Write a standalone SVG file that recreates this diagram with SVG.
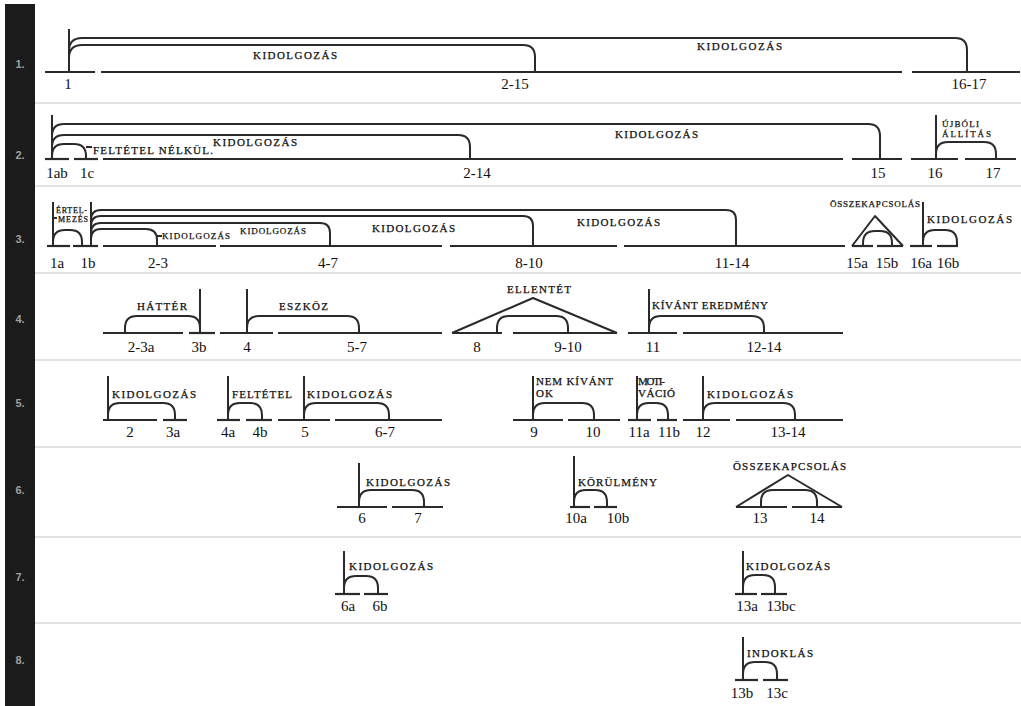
<svg xmlns="http://www.w3.org/2000/svg" width="1021" height="706" viewBox="0 0 1021 706">
<style>
.bg{fill:#ffffff}
.bar{fill:#1b1b1b}
.rn{font-family:"Liberation Sans",Arial,sans-serif;font-weight:bold;font-size:11px;fill:#a0a0a0;text-anchor:middle}
.dv{stroke:#e2e2e2;stroke-width:2}
.seg{stroke:#2a2a2a;stroke-width:2.2;fill:none}
.ln{stroke:#2a2a2a;stroke-width:2;fill:none;stroke-linejoin:round}
.num{font-family:"Liberation Serif","Times New Roman",serif;font-size:15px;fill:#111;text-anchor:middle}
.rel{font-family:"Liberation Serif","Times New Roman",serif;font-size:11px;fill:#111;stroke:#111;stroke-width:0.25}
.sm{font-size:9px}
</style>
<rect class="bg" x="0" y="0" width="1021" height="706"/>
<rect class="bar" x="5" y="4" width="30" height="702"/>
<g id="row-labels">
<text class="rn" x="20" y="68">1.</text>
<text class="rn" x="20" y="159">2.</text>
<text class="rn" x="20" y="243">3.</text>
<text class="rn" x="20" y="323">4.</text>
<text class="rn" x="20" y="407">5.</text>
<text class="rn" x="20" y="494">6.</text>
<text class="rn" x="20" y="581">7.</text>
<text class="rn" x="20" y="664">8.</text>
</g>
<g id="dividers">
<line class="dv" x1="35" y1="103" x2="1021" y2="103"/>
<line class="dv" x1="35" y1="186" x2="1021" y2="186"/>
<line class="dv" x1="35" y1="273" x2="1021" y2="273"/>
<line class="dv" x1="35" y1="360" x2="1021" y2="360"/>
<line class="dv" x1="35" y1="447" x2="1021" y2="447"/>
<line class="dv" x1="35" y1="537" x2="1021" y2="537"/>
<line class="dv" x1="35" y1="623" x2="1021" y2="623"/>
</g>

<!-- Row 1 nodes -->
<g id="r1-1"><line class="seg" x1="45" y1="72" x2="95" y2="72"/><text class="num" x="68" y="89">1</text></g>
<g id="r1-2-15"><line class="seg" x1="101" y1="72" x2="902" y2="72"/><text class="num" x="515" y="89">2-15</text></g>
<g id="r1-16-17"><line class="seg" x1="912" y1="72" x2="1020" y2="72"/><text class="num" x="969" y="89">16-17</text></g>

<!-- Row 2 nodes -->
<g id="r2-1ab"><line class="seg" x1="45" y1="159" x2="69" y2="159"/><text class="num" x="57" y="178">1ab</text></g>
<g id="r2-1c"><line class="seg" x1="74" y1="159" x2="98" y2="159"/><text class="num" x="87" y="178">1c</text></g>
<g id="r2-2-14"><line class="seg" x1="103" y1="159" x2="843" y2="159"/><text class="num" x="477" y="178">2-14</text></g>
<g id="r2-15"><line class="seg" x1="852" y1="159" x2="902" y2="159"/><text class="num" x="878" y="178">15</text></g>
<g id="r2-16"><line class="seg" x1="911" y1="159" x2="958" y2="159"/><text class="num" x="935" y="178">16</text></g>
<g id="r2-17"><line class="seg" x1="965" y1="159" x2="1016" y2="159"/><text class="num" x="993" y="178">17</text></g>

<!-- Row 3 nodes -->
<g id="r3-1a"><line class="seg" x1="47" y1="246" x2="70" y2="246"/><text class="num" x="57" y="268">1a</text></g>
<g id="r3-1b"><line class="seg" x1="73" y1="246" x2="98" y2="246"/><text class="num" x="88" y="268">1b</text></g>
<g id="r3-2-3"><line class="seg" x1="103" y1="246" x2="216" y2="246"/><text class="num" x="158" y="268">2-3</text></g>
<g id="r3-4-7"><line class="seg" x1="220" y1="246" x2="442" y2="246"/><text class="num" x="328" y="268">4-7</text></g>
<g id="r3-8-10"><line class="seg" x1="450" y1="246" x2="617" y2="246"/><text class="num" x="529" y="268">8-10</text></g>
<g id="r3-11-14"><line class="seg" x1="624" y1="246" x2="845" y2="246"/><text class="num" x="732" y="268">11-14</text></g>
<g id="r3-15a"><line class="seg" x1="852" y1="246" x2="873" y2="246"/><text class="num" x="857" y="268">15a</text></g>
<g id="r3-15b"><line class="seg" x1="877" y1="246" x2="903" y2="246"/><text class="num" x="887" y="268">15b</text></g>
<g id="r3-16a"><line class="seg" x1="910" y1="246" x2="932" y2="246"/><text class="num" x="921" y="268">16a</text></g>
<g id="r3-16b"><line class="seg" x1="937" y1="246" x2="958" y2="246"/><text class="num" x="948" y="268">16b</text></g>

<!-- Row 4 nodes -->
<g id="r4-2-3a"><line class="seg" x1="103" y1="333" x2="183" y2="333"/><text class="num" x="141" y="352">2-3a</text></g>
<g id="r4-3b"><line class="seg" x1="189" y1="333" x2="215" y2="333"/><text class="num" x="199" y="352">3b</text></g>
<g id="r4-4"><line class="seg" x1="220" y1="333" x2="273" y2="333"/><text class="num" x="247" y="352">4</text></g>
<g id="r4-5-7"><line class="seg" x1="278" y1="333" x2="442" y2="333"/><text class="num" x="357" y="352">5-7</text></g>
<g id="r4-8"><line class="seg" x1="452" y1="333" x2="502" y2="333"/><text class="num" x="477" y="352">8</text></g>
<g id="r4-9-10"><line class="seg" x1="513" y1="333" x2="617" y2="333"/><text class="num" x="568" y="352">9-10</text></g>
<g id="r4-11"><line class="seg" x1="628" y1="333" x2="677" y2="333"/><text class="num" x="653" y="352">11</text></g>
<g id="r4-12-14"><line class="seg" x1="683" y1="333" x2="843" y2="333"/><text class="num" x="764" y="352">12-14</text></g>

<!-- Row 5 nodes -->
<g id="r5-2"><line class="seg" x1="103" y1="420" x2="157" y2="420"/><text class="num" x="130" y="437">2</text></g>
<g id="r5-3a"><line class="seg" x1="163" y1="420" x2="187" y2="420"/><text class="num" x="173" y="437">3a</text></g>
<g id="r5-4a"><line class="seg" x1="217" y1="420" x2="240" y2="420"/><text class="num" x="228" y="437">4a</text></g>
<g id="r5-4b"><line class="seg" x1="246" y1="420" x2="272" y2="420"/><text class="num" x="260" y="437">4b</text></g>
<g id="r5-5"><line class="seg" x1="278" y1="420" x2="330" y2="420"/><text class="num" x="305" y="437">5</text></g>
<g id="r5-6-7"><line class="seg" x1="335" y1="420" x2="442" y2="420"/><text class="num" x="385" y="437">6-7</text></g>
<g id="r5-9"><line class="seg" x1="513" y1="420" x2="563" y2="420"/><text class="num" x="534" y="437">9</text></g>
<g id="r5-10"><line class="seg" x1="568" y1="420" x2="620" y2="420"/><text class="num" x="593" y="437">10</text></g>
<g id="r5-11a"><line class="seg" x1="628" y1="420" x2="651" y2="420"/><text class="num" x="639" y="437">11a</text></g>
<g id="r5-11b"><line class="seg" x1="657" y1="420" x2="677" y2="420"/><text class="num" x="669" y="437">11b</text></g>
<g id="r5-12"><line class="seg" x1="683" y1="420" x2="730" y2="420"/><text class="num" x="703" y="437">12</text></g>
<g id="r5-13-14"><line class="seg" x1="736" y1="420" x2="843" y2="420"/><text class="num" x="788" y="437">13-14</text></g>

<!-- Row 6 nodes -->
<g id="r6-6"><line class="seg" x1="337" y1="507" x2="387" y2="507"/><text class="num" x="362" y="523">6</text></g>
<g id="r6-7"><line class="seg" x1="392" y1="507" x2="443" y2="507"/><text class="num" x="418" y="523">7</text></g>
<g id="r6-10a"><line class="seg" x1="570" y1="507" x2="590" y2="507"/><text class="num" x="576" y="523">10a</text></g>
<g id="r6-10b"><line class="seg" x1="594" y1="507" x2="617" y2="507"/><text class="num" x="618" y="523">10b</text></g>
<g id="r6-13"><line class="seg" x1="736" y1="507" x2="787" y2="507"/><text class="num" x="760" y="523">13</text></g>
<g id="r6-14"><line class="seg" x1="792" y1="507" x2="842" y2="507"/><text class="num" x="817" y="523">14</text></g>

<!-- Row 7 nodes -->
<g id="r7-6a"><line class="seg" x1="335" y1="594" x2="360" y2="594"/><text class="num" x="348" y="611">6a</text></g>
<g id="r7-6b"><line class="seg" x1="364" y1="594" x2="388" y2="594"/><text class="num" x="380" y="611">6b</text></g>
<g id="r7-13a"><line class="seg" x1="735" y1="594" x2="757" y2="594"/><text class="num" x="747" y="611">13a</text></g>
<g id="r7-13bc"><line class="seg" x1="761" y1="594" x2="787" y2="594"/><text class="num" x="781" y="611">13bc</text></g>

<!-- Row 8 nodes -->
<g id="r8-13b"><line class="seg" x1="735" y1="680" x2="758" y2="680"/><text class="num" x="742" y="698">13b</text></g>
<g id="r8-13c"><line class="seg" x1="763" y1="680" x2="788" y2="680"/><text class="num" x="777" y="698">13c</text></g>

<!-- Connectors: relation brackets, nucleus verticals, triangles -->
<g id="connectors">
<!-- row 1 -->
<path class="ln" d="M69,29 V72"/>
<path class="ln" d="M69,51 Q69,38 82,38 H955 Q967,38 967,50 V72"/>
<path class="ln" d="M69,58 Q69,45 82,45 H523 Q535,45 535,57 V72"/>
<!-- row 2 -->
<path class="ln" d="M52,115 V159"/>
<path class="ln" d="M52,136 Q52,124 64,124 H868 Q880,124 880,136 V159"/>
<path class="ln" d="M52,147 Q52,135 64,135 H458 Q470,135 470,147 V159"/>
<path class="ln" d="M52,159 V156 Q52,144 64,144 H74 Q86,144 86,156 V159"/>
<path class="ln" d="M86,147 H92"/>
<path class="ln" d="M936,115 V159"/>
<path class="ln" d="M936,159 V154 Q936,142 948,142 H984 Q996,142 996,154 V159"/>
<!-- row 3 -->
<path class="ln" d="M53,202 V246"/>
<path class="ln" d="M53,246 V242 Q53,230 65,230 H70 Q82,230 82,242 V246"/>
<path class="ln" d="M53,218 H57"/>
<path class="ln" d="M91,202 V246"/>
<path class="ln" d="M91,220 Q91,210 101,210 H726 Q736,210 736,220 V246"/>
<path class="ln" d="M91,226 Q91,216 101,216 H523 Q533,216 533,226 V246"/>
<path class="ln" d="M91,233 Q91,223 101,223 H320 Q330,223 330,233 V246"/>
<path class="ln" d="M91,239 Q91,229 101,229 H146 Q157,229 157,240 V246"/>
<path class="ln" d="M157,236 H162"/>
<path class="ln" d="M852,246 L875,216 L903,246"/>
<path class="ln" d="M863,246 V243 Q863,231 875,231 H880 Q892,231 892,243 V246"/>
<path class="ln" d="M923,202 V246"/>
<path class="ln" d="M923,246 V242 Q923,230 935,230 H945 Q957,230 957,242 V246"/>
<!-- row 4 -->
<path class="ln" d="M200,289 V333"/>
<path class="ln" d="M125,333 V328 Q125,316 137,316 H188 Q200,316 200,328 V333"/>
<path class="ln" d="M247,289 V333"/>
<path class="ln" d="M247,333 V328 Q247,316 259,316 H347 Q359,316 359,328 V333"/>
<path class="ln" d="M452,333 L533,298 L617,333"/>
<path class="ln" d="M497,333 V328 Q497,316 509,316 H556 Q568,316 568,328 V333"/>
<path class="ln" d="M649,289 V333"/>
<path class="ln" d="M649,333 V328 Q649,316 661,316 H752 Q764,316 764,328 V333"/>
<!-- row 5 -->
<path class="ln" d="M108,376 V420"/>
<path class="ln" d="M108,420 V415 Q108,403 120,403 H163 Q175,403 175,415 V420"/>
<path class="ln" d="M228,376 V420"/>
<path class="ln" d="M228,420 V415 Q228,403 240,403 H250 Q262,403 262,415 V420"/>
<path class="ln" d="M304,376 V420"/>
<path class="ln" d="M304,420 V415 Q304,403 316,403 H377 Q389,403 389,415 V420"/>
<path class="ln" d="M533,376 V420"/>
<path class="ln" d="M533,420 V415 Q533,403 545,403 H582 Q594,403 594,415 V420"/>
<path class="ln" d="M637,376 V420"/>
<path class="ln" d="M637,420 V415 Q637,403 649,403 H656 Q668,403 668,415 V420"/>
<path class="ln" d="M703,376 V420"/>
<path class="ln" d="M703,420 V415 Q703,403 715,403 H783 Q795,403 795,415 V420"/>
<!-- row 6 -->
<path class="ln" d="M359,463 V507"/>
<path class="ln" d="M359,507 V502 Q359,490 371,490 H412 Q424,490 424,502 V507"/>
<path class="ln" d="M574,456 V507"/>
<path class="ln" d="M574,507 V502 Q574,490 586,490 H595 Q607,490 607,502 V507"/>
<path class="ln" d="M736,507 L788,475 L842,507"/>
<path class="ln" d="M761,507 V502 Q761,490 773,490 H805 Q817,490 817,502 V507"/>
<!-- row 7 -->
<path class="ln" d="M344,551 V594"/>
<path class="ln" d="M344,594 V588 Q344,576 356,576 H366 Q378,576 378,588 V594"/>
<path class="ln" d="M743,551 V594"/>
<path class="ln" d="M743,594 V587 Q743,575 755,575 H763 Q775,575 775,587 V594"/>
<!-- row 8 -->
<path class="ln" d="M743,637 V680"/>
<path class="ln" d="M743,680 V674 Q743,662 755,662 H765 Q777,662 777,674 V680"/>
</g>

<g id="relation-labels">
<text class="rel" x="253" y="59" textLength="84" lengthAdjust="spacing">KIDOLGOZÁS</text>
<text class="rel" x="697" y="50" textLength="85" lengthAdjust="spacing">KIDOLGOZÁS</text>
<text class="rel" x="93" y="154" textLength="120" lengthAdjust="spacing">FELTÉTEL NÉLKÜL.</text>
<text class="rel" x="213" y="146" textLength="84" lengthAdjust="spacing">KIDOLGOZÁS</text>
<text class="rel" x="615" y="138" textLength="83" lengthAdjust="spacing">KIDOLGOZÁS</text>
<text class="rel sm" x="942" y="127" textLength="37" lengthAdjust="spacing">ÚJBÓLI</text>
<text class="rel sm" x="942" y="137" textLength="49" lengthAdjust="spacing">ÁLLÍTÁS</text>
<text class="rel sm" x="56" y="213" textLength="31" lengthAdjust="spacing" style="font-size:8px">ÉRTEL-</text>
<text class="rel sm" x="58" y="222" textLength="30" lengthAdjust="spacing" style="font-size:8px">MEZÉS</text>
<text class="rel sm" x="162" y="239" textLength="68" lengthAdjust="spacing">KIDOLGOZÁS</text>
<text class="rel sm" x="240" y="234" textLength="66" lengthAdjust="spacing">KIDOLGOZÁS</text>
<text class="rel" x="372" y="232" textLength="83" lengthAdjust="spacing">KIDOLGOZÁS</text>
<text class="rel" x="577" y="226" textLength="83" lengthAdjust="spacing">KIDOLGOZÁS</text>
<text class="rel sm" x="830" y="207" textLength="90" lengthAdjust="spacing">ÖSSZEKAPCSOLÁS</text>
<text class="rel" x="927" y="223" textLength="85" lengthAdjust="spacing">KIDOLGOZÁS</text>
<text class="rel" x="137" y="310" textLength="50" lengthAdjust="spacing">HÁTTÉR</text>
<text class="rel" x="279" y="310" textLength="49" lengthAdjust="spacing">ESZKÖZ</text>
<text class="rel" x="507" y="293" textLength="64" lengthAdjust="spacing">ELLENTÉT</text>
<text class="rel" x="652" y="309" textLength="116" lengthAdjust="spacing">KÍVÁNT EREDMÉNY</text>
<text class="rel" x="112" y="398" textLength="84" lengthAdjust="spacing">KIDOLGOZÁS</text>
<text class="rel" x="232" y="398" textLength="60" lengthAdjust="spacing">FELTÉTEL</text>
<text class="rel" x="307" y="398" textLength="85" lengthAdjust="spacing">KIDOLGOZÁS</text>
<text class="rel" x="536" y="385" textLength="77" lengthAdjust="spacing">NEM KÍVÁNT</text>
<text class="rel" x="536" y="397" textLength="17" lengthAdjust="spacing">OK</text>
<text class="rel" x="638" y="385" textLength="27" lengthAdjust="spacing">MOTI-</text>
<text class="rel" x="638" y="397" textLength="37" lengthAdjust="spacing">VÁCIÓ</text>
<text class="rel" x="707" y="398" textLength="86" lengthAdjust="spacing">KIDOLGOZÁS</text>
<text class="rel" x="366" y="486" textLength="84" lengthAdjust="spacing">KIDOLGOZÁS</text>
<text class="rel" x="578" y="486" textLength="79" lengthAdjust="spacing">KÖRÜLMÉNY</text>
<text class="rel" x="733" y="470" textLength="113" lengthAdjust="spacing">ÖSSZEKAPCSOLÁS</text>
<text class="rel" x="349" y="570" textLength="84" lengthAdjust="spacing">KIDOLGOZÁS</text>
<text class="rel" x="746" y="570" textLength="84" lengthAdjust="spacing">KIDOLGOZÁS</text>
<text class="rel" x="747" y="657" textLength="66" lengthAdjust="spacing">INDOKLÁS</text>
</g>
</svg>
